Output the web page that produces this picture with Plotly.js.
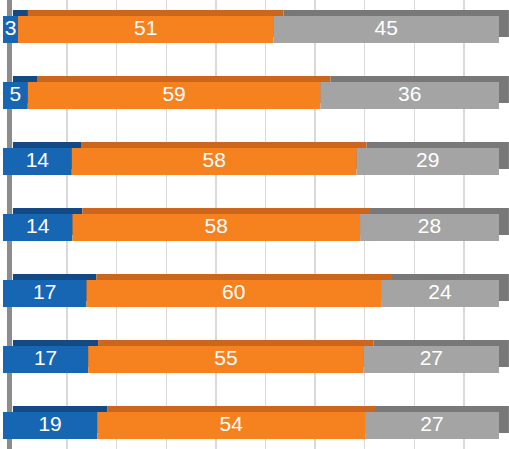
<!DOCTYPE html>
<html>
<head>
<meta charset="utf-8">
<script src="https://cdn.plot.ly/plotly-3.0.1.min.js"></script>
<style>html,body{margin:0;padding:0;background:#fff;}#chart{width:509px;height:449px;}</style>
</head>
<body>
<div id="chart"></div>
<script>
// Data
const categories = ['R1', 'R2', 'R3', 'R4', 'R5', 'R6', 'R7'];
const blueValues = [3, 5, 14, 14, 17, 17, 19];
const orangeValues = [51, 59, 58, 58, 60, 55, 54];
const grayValues = [45, 36, 29, 28, 24, 27, 27];
const gridTicks = [10, 20, 30, 40, 50, 60, 70, 80, 90, 100];

const series = [
  {vals: blueValues, front: '#1766b3', back: '#134a86'},
  {vals: orangeValues, front: '#f5821f', back: '#cc661c'},
  {vals: grayValues, front: '#a4a4a4', back: '#787878'}
];

// 100% stacking (computed so labels can sit at segment centres)
const totals = categories.map((c, i) => series.reduce((s, se) => s + se.vals[i], 0));
const pct = series.map(se => se.vals.map((v, i) => v / totals[i] * 100));
const starts = series.map((se, k) => categories.map((c, i) => {
  let s = 0;
  for (let j = 0; j < k; j++) s += pct[j][i];
  return s;
}));

const DEPTH_X = 2.0;      // extrusion depth of the bars, in axis units
const WALL_SHIFT = 2.92;  // back-wall gridline shift, in axis units
const traces = [];
// back (extruded) faces
series.forEach((se, k) => {
  traces.push({
    type: 'bar', orientation: 'h', y: categories, x: pct[k],
    base: starts[k].map(s => s + DEPTH_X),
    offset: -0.296, width: 0.41,
    marker: {color: se.back, line: {width: 0}}, hoverinfo: 'skip', showlegend: false
  });
});
// front faces
series.forEach((se, k) => {
  traces.push({
    type: 'bar', orientation: 'h', y: categories, x: pct[k],
    base: starts[k],
    offset: -0.205, width: 0.41,
    marker: {color: se.front, line: {width: 0}}, hoverinfo: 'skip', showlegend: false
  });
});
// labels
series.forEach((se, k) => {
  traces.push({
    type: 'scatter', mode: 'text', y: categories,
    x: starts[k].map((s, i) => s + pct[k][i] / 2),
    text: se.vals.map(String),
    textposition: 'middle center', cliponaxis: false,
    textfont: {family: 'Liberation Sans, Arial, sans-serif', size: 21, color: '#ffffff'},
    hoverinfo: 'skip', showlegend: false
  });
});

const layout = {
  width: 509, height: 449,
  margin: {l: 3, r: 0, t: 0, b: 0, pad: 0},
  paper_bgcolor: '#ffffff', plot_bgcolor: '#ffffff',
  barmode: 'overlay',
  showlegend: false,
  xaxis: {
    range: [0, 102.02], tickmode: 'array', tickvals: gridTicks.map(t => t + WALL_SHIFT),
    showgrid: true, gridcolor: '#d9d9d9', gridwidth: 1.5,
    zeroline: false, showticklabels: false, ticks: '', showline: false, fixedrange: true
  },
  yaxis: {
    type: 'category', range: [6.356, -0.447],
    anchor: 'free', position: 0.012, layer: 'below traces',
    showline: true, linecolor: '#8c8c8c', linewidth: 5,
    showgrid: false, zeroline: false, showticklabels: false, ticks: ''
  }
};

Plotly.newPlot('chart', traces, layout, {staticPlot: true, displayModeBar: false});
</script>
</body>
</html>
